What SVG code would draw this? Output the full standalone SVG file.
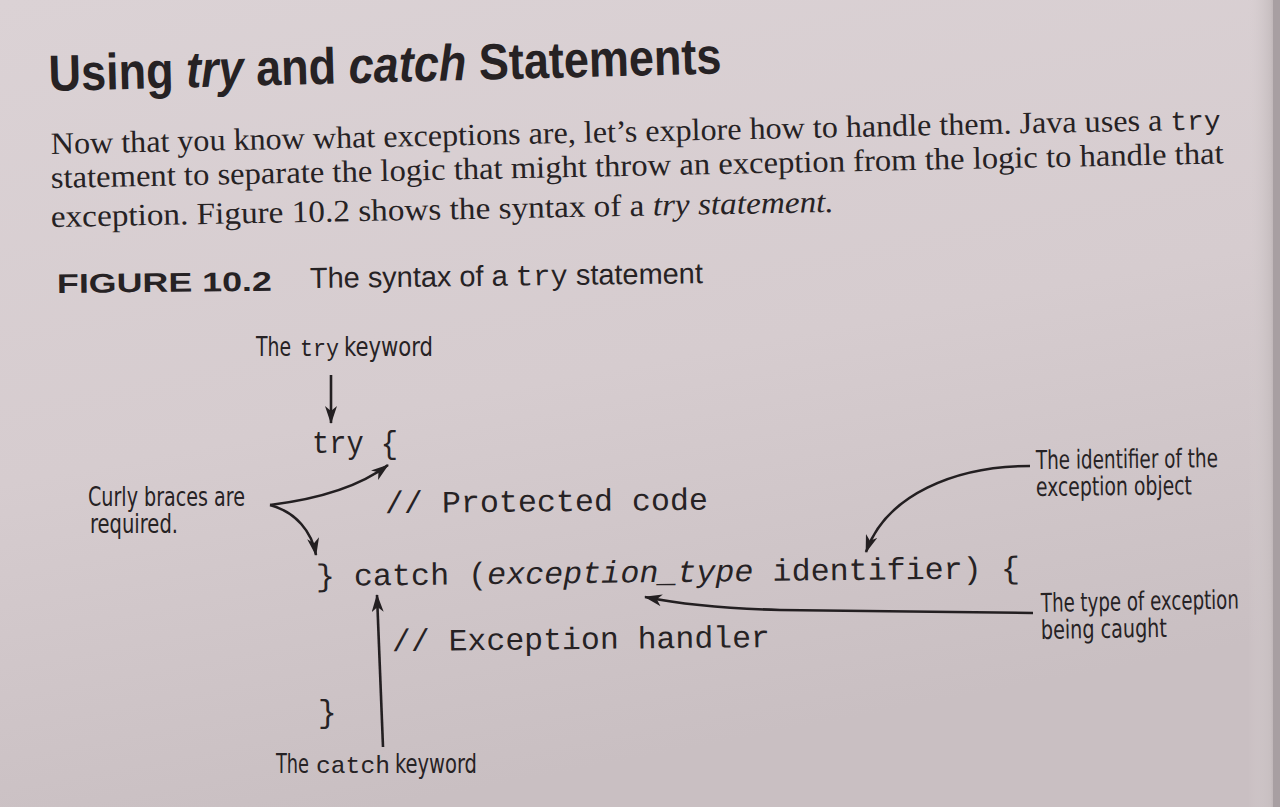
<svg xmlns="http://www.w3.org/2000/svg" width="1280" height="807" viewBox="0 0 1280 807">
<defs>
<linearGradient id="bg" x1="0" y1="0" x2="0.3" y2="1">
<stop offset="0" stop-color="#dbd2d5"/>
<stop offset="0.55" stop-color="#d6cccf"/>
<stop offset="1" stop-color="#c9bfc2"/>
</linearGradient>
<linearGradient id="edge" x1="0" y1="0" x2="1" y2="0">
<stop offset="0" stop-color="#d6ced0" stop-opacity="0"/>
<stop offset="0.7" stop-color="#c8bfc1"/>
<stop offset="1" stop-color="#aba2a4"/>
</linearGradient>
<marker id="ah" viewBox="0 0 18 12" refX="17" refY="6" markerWidth="18" markerHeight="12" markerUnits="userSpaceOnUse" orient="auto">
<path d="M0,0 L18,6 L0,12 L5,6 Z" fill="#231f21"/>
</marker>
<style>
.ink{fill:#262224}
.title{font-family:"Liberation Sans",Arial,sans-serif;font-weight:bold;font-size:51px}
.body{font-family:"Liberation Serif","Times New Roman",serif;font-size:31px}
.mono{font-family:"Liberation Mono","Courier New",monospace}
.fig{font-family:"Liberation Sans",Arial,sans-serif;font-weight:bold;font-size:27px}
.cap{font-family:"Liberation Sans",Arial,sans-serif;font-size:29px}
.lbl{font-family:"Liberation Sans Narrow","DejaVu Sans Condensed","Liberation Sans",sans-serif;font-size:26px}
.lblm{font-family:"Liberation Mono","Courier New",monospace;font-size:24px}
.code{font-family:"Liberation Mono","Courier New",monospace;font-size:31px}
.conn{fill:none;stroke:#231f21;stroke-width:2.6;marker-end:url(#ah)}
</style>
</defs>
<rect width="1280" height="807" fill="url(#bg)"/>
<rect x="1248" y="0" width="32" height="807" fill="url(#edge)"/>
<rect x="1273" y="0" width="7" height="807" fill="#a89fa2"/>

<g id="heading">
<text class="title ink" x="49" y="91" textLength="673" lengthAdjust="spacingAndGlyphs" transform="rotate(-1.5 49 91)">Using <tspan font-style="italic">try</tspan> and <tspan font-style="italic">catch</tspan> Statements</text>
</g>

<g id="paragraph">
<text class="body ink" x="51" y="154" textLength="1170" lengthAdjust="spacingAndGlyphs" transform="rotate(-1.22 51 154)">Now that you know what exceptions are, let’s explore how to handle them. Java uses a <tspan class="mono" font-size="27px">try</tspan></text>
<text class="body ink" x="51" y="188" textLength="1173" lengthAdjust="spacingAndGlyphs" transform="rotate(-1.2 51 188)">statement to separate the logic that might throw an exception from the logic to handle that</text>
<text class="body ink" x="51" y="227" textLength="783" lengthAdjust="spacingAndGlyphs" transform="rotate(-1.1 51 227)">exception. Figure 10.2 shows the syntax of a <tspan font-style="italic">try statement.</tspan></text>
</g>

<g id="caption">
<text class="fig ink" x="57" y="293" textLength="215" lengthAdjust="spacingAndGlyphs" transform="rotate(-0.6 57 293)">FIGURE 10.2</text>
<text class="cap ink" x="310" y="288" textLength="393" lengthAdjust="spacingAndGlyphs" transform="rotate(-0.7 310 288)">The syntax of a <tspan class="mono">try</tspan> statement</text>
</g>

<g id="code">
<text class="code ink" x="312" y="453" textLength="86" lengthAdjust="spacingAndGlyphs">try {</text>
<text class="code ink" x="385" y="513" textLength="323" lengthAdjust="spacingAndGlyphs" transform="rotate(-0.6 385 513)">// Protected code</text>
<text class="code ink" x="316" y="586" textLength="704" lengthAdjust="spacingAndGlyphs" transform="rotate(-0.65 316 586)">} catch (<tspan font-style="italic">exception_type</tspan> identifier) {</text>
<text class="code ink" x="392" y="651" textLength="378" lengthAdjust="spacingAndGlyphs" transform="rotate(-0.6 392 651)">// Exception handler</text>
<text class="code ink" x="318" y="722">}</text>
</g>

<g id="label-try-keyword">
<text class="lbl ink" x="256" y="356" textLength="35" lengthAdjust="spacingAndGlyphs">The</text>
<text class="lblm ink" x="300" y="356" textLength="39" lengthAdjust="spacingAndGlyphs">try</text>
<text class="lbl ink" x="344" y="356" textLength="89" lengthAdjust="spacingAndGlyphs">keyword</text>
</g>
<g id="label-curly">
<text class="lbl ink" x="88" y="506" textLength="157" lengthAdjust="spacingAndGlyphs">Curly braces are</text>
<text class="lbl ink" x="90" y="533" textLength="88" lengthAdjust="spacingAndGlyphs">required.</text>
</g>
<g id="label-identifier">
<text class="lbl ink" x="1036" y="469" textLength="182" lengthAdjust="spacingAndGlyphs" transform="rotate(-0.6 1036 469)">The identifier of the</text>
<text class="lbl ink" x="1036" y="496" textLength="156" lengthAdjust="spacingAndGlyphs" transform="rotate(-0.6 1036 496)">exception object</text>
</g>
<g id="label-type">
<text class="lbl ink" x="1239" y="608.5" text-anchor="end" textLength="198" lengthAdjust="spacingAndGlyphs" transform="rotate(-1 1239 608.5)">The type of exception</text>
<text class="lbl ink" x="1041" y="639" textLength="126" lengthAdjust="spacingAndGlyphs" transform="rotate(-1 1041 639)">being caught</text>
</g>
<g id="label-catch-keyword">
<text class="lbl ink" x="276" y="773" textLength="33" lengthAdjust="spacingAndGlyphs">The</text>
<text class="lblm ink" x="316" y="773" textLength="74" lengthAdjust="spacingAndGlyphs">catch</text>
<text class="lbl ink" x="395" y="773" textLength="82" lengthAdjust="spacingAndGlyphs">keyword</text>
</g>

<g id="connectors">
<path class="conn" d="M331,375 L331,423"/>
<path class="conn" d="M270,505 C310,500 355,490 388,465"/>
<path class="conn" d="M270,505 C296,512 312,532 316,555"/>
<path class="conn" d="M1030,466 C955,466 886,495 866,552"/>
<path class="conn" d="M1033,613 L780,610 Q700,608 645,597"/>
<path class="conn" d="M383,747 L377,595"/>
</g>
</svg>
